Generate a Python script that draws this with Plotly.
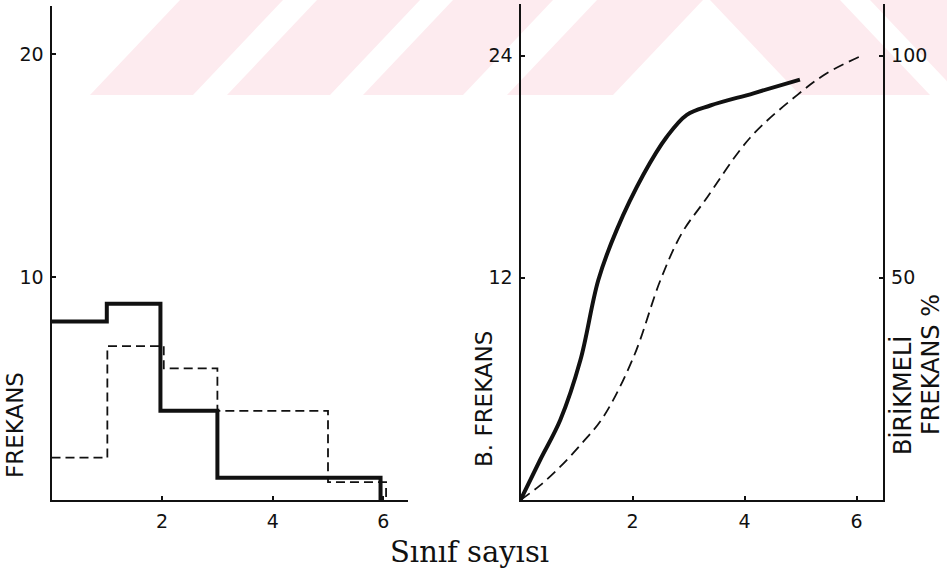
import plotly.graph_objects as go

# ---------------- data ----------------
# Left panel: class frequency histograms (step outlines)
solid_edges = [0, 1, 1.97, 3, 4, 5, 5.95]
solid_freq = [8.0, 8.8, 4.0, 1.0, 1.0, 1.0]
dashed_edges = [0, 1.01, 2.03, 3.0, 4, 5, 6.05]
dashed_freq = [1.9, 6.9, 5.9, 4.0, 4.0, 0.8]

# Right panel: cumulative frequency curves
cum_solid_x = [0, 0.35, 0.71, 1.07, 1.39, 1.72, 2.2, 2.61, 2.97, 3.39, 4.16, 4.99]
cum_solid_y = [0, 2.16, 4.32, 7.56, 11.88, 14.6, 17.6, 19.6, 20.8, 21.3, 21.96, 22.7]
cum_dashed_x = [0, 0.35, 0.71, 1.1, 1.48, 2.02, 2.5, 2.88, 3.3, 4.1, 4.94, 5.47, 6.1]
cum_dashed_pct = [0, 3.3, 7.5, 12.8, 18.7, 32.2, 49.5, 60.0, 67.5, 81.5, 91.1, 96.0, 100]

left_yticks = [10, 20]
right_yticks = [12, 24]
pct_ticks = [50, 100]
x_ticks = [2, 4, 6]

W, H = 947, 585
def px(x):
    return x / W
def py(y):
    return 1 - y / H

# step traces: close to zero at the last edge
def step(edges, vals):
    xs = list(edges) + [edges[-1]]
    ys = list(vals) + [vals[-1], 0]
    return xs, ys

fig = go.Figure()
sx, sy = step(solid_edges, solid_freq)
dx, dy = step(dashed_edges, dashed_freq)
fig.add_trace(go.Scatter(x=sx, y=sy, mode="lines", line=dict(shape="hv", color="#111", width=4),
                         xaxis="x", yaxis="y", showlegend=False))
fig.add_trace(go.Scatter(x=dx, y=dy, mode="lines", line=dict(shape="hv", color="#111", width=1.8, dash="9px,5px"),
                         xaxis="x", yaxis="y", showlegend=False))
fig.add_trace(go.Scatter(x=cum_solid_x, y=cum_solid_y, mode="lines",
                         line=dict(shape="spline", smoothing=1.0, color="#111", width=4),
                         xaxis="x2", yaxis="y2", showlegend=False))
fig.add_trace(go.Scatter(x=cum_dashed_x, y=cum_dashed_pct, mode="lines",
                         line=dict(shape="spline", smoothing=1.0, color="#111", width=1.8, dash="11px,6px"),
                         xaxis="x2", yaxis="y3", showlegend=False))

tickfont = dict(family="DejaVu Sans", size=19, color="#111")

# left panel geometry
L_x0, L_x1 = 51.5, 408
L_xunit = 55.3
L_y0, L_ytop = 500, 6
L_yunit = 22.3
# right panel geometry
R_x0, R_x1 = 520.5, 883.3
R_xunit = 56.0
R_y0, R_ytop = 500, 4
R_yunit = 18.52

axis_common = dict(showgrid=False, zeroline=False, showline=True, linecolor="#111", linewidth=2,
                   ticks="inside", ticklen=4, tickwidth=2, tickcolor="#111", tickfont=tickfont)

fig.update_layout(
    width=W, height=H, margin=dict(l=0, r=0, t=0, b=0),
    paper_bgcolor="white", plot_bgcolor="rgba(0,0,0,0)",
    xaxis=dict(domain=[px(L_x0), px(L_x1)], range=[0, (L_x1 - L_x0) / L_xunit],
               tickvals=x_ticks, anchor="y", ticklabelstandoff=3, **axis_common),
    yaxis=dict(domain=[py(L_y0), py(L_ytop)], range=[0, (L_y0 - L_ytop) / L_yunit],
               tickvals=left_yticks, anchor="x", ticklabelstandoff=2, **axis_common),
    xaxis2=dict(domain=[px(R_x0), px(R_x1)], range=[0, (R_x1 - R_x0) / R_xunit],
                tickvals=x_ticks, anchor="y2", ticklabelstandoff=3, **axis_common),
    yaxis2=dict(domain=[py(R_y0), py(R_ytop)], range=[0, (R_y0 - R_ytop) / R_yunit],
                tickvals=right_yticks, anchor="x2", ticklabelstandoff=2, **axis_common),
    yaxis3=dict(domain=[py(R_y0), py(R_ytop)], range=[0, (R_y0 - R_ytop) / R_yunit * 100 / 24],
                tickvals=pct_ticks, overlaying="y2", side="right", anchor="x2",
                ticklabelstandoff=2, **axis_common),
)

# faint pink watermark band at the top
pink = "#fdebef"
band_b = 95
shapes = []
for x0, x1 in [(90, 193), (227, 330), (363, 463), (507, 613)]:
    path = f"M {px(x0)} {py(band_b)} L {px(x1)} {py(band_b)} L {px(x1+90)} {py(0)} L {px(x0+90)} {py(0)} Z"
    shapes.append(dict(type="path", path=path, xref="paper", yref="paper", fillcolor=pink,
                       line=dict(width=0), layer="below"))
for x0, x1 in [(800, 930), (960, 1070)]:
    path = f"M {px(x0)} {py(band_b)} L {px(x1)} {py(band_b)} L {px(x1-90)} {py(0)} L {px(x0-90)} {py(0)} Z"
    shapes.append(dict(type="path", path=path, xref="paper", yref="paper", fillcolor=pink,
                       line=dict(width=0), layer="below"))
fig.update_layout(shapes=shapes)

lab = dict(family="DejaVu Sans", size=23, color="#111")
lab2 = dict(family="DejaVu Sans", size=24, color="#111")
ann = [
    dict(text="FREKANS", x=px(15), y=py(425), textangle=-90, font=lab),
    dict(text="B. FREKANS", x=px(484), y=py(399), textangle=-90, font=lab),
    dict(text="BİRİKMELİ", x=px(902), y=py(396), textangle=-90, font=lab2),
    dict(text="FREKANS %", x=px(931), y=py(365), textangle=-90, font=lab2),
    dict(text="Sınıf sayısı", x=px(469), y=py(552), font=dict(family="DejaVu Serif", size=29, color="#111")),
]
for a in ann:
    a.update(xref="paper", yref="paper", showarrow=False, xanchor="center", yanchor="middle")
fig.update_layout(annotations=ann)

fig.write_html("out.html")
